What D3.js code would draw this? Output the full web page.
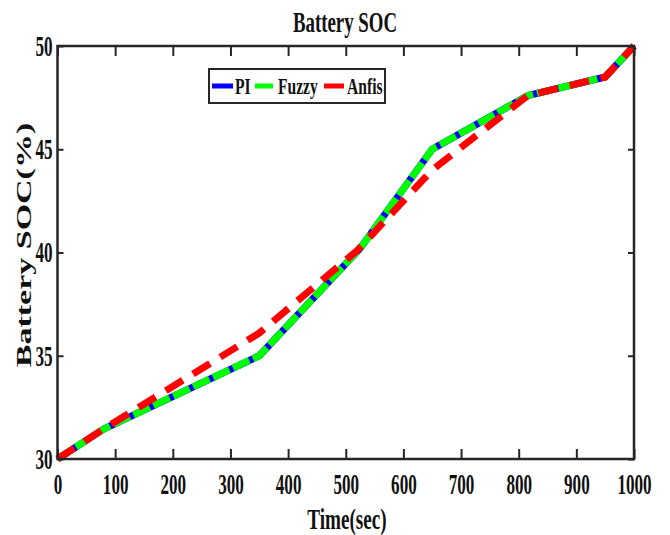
<!DOCTYPE html>
<html>
<head>
<meta charset="utf-8">
<script src="https://cdn.jsdelivr.net/npm/d3@7"></script>
<style>
body { margin: 0; background: #fff; }
text { font-family: "Liberation Serif", "Times New Roman", serif; font-weight: bold; fill: #111; }
</style>
</head>
<body>
<div id="chart"></div>
<script>
// values
var time = [0, 80, 350, 525, 650, 816, 950, 1000];
var socPI = [30, 31.45, 35, 40.2, 45, 47.6, 48.5, 50];
var socFuzzy = [30, 31.45, 35, 40.2, 45, 47.6, 48.5, 50];
var timeAnfis = [0, 80, 350, 520, 650, 816, 950, 1000];
var socAnfis = [30, 31.45, 36.1, 40.1, 44.0, 47.6, 48.5, 50];
var xTicks = [0, 100, 200, 300, 400, 500, 600, 700, 800, 900, 1000];
var yTicks = [30, 35, 40, 45, 50];
var seriesNames = ["PI", "Fuzzy", "Anfis"];

var w = 670, h = 535;
// plot box edges (window.top is read only, so no plain "top")
var plotL = 57.5, plotR = 634, plotT = 46, plotB = 459;

var svg = d3.select("#chart").append("svg")
    .attr("width", w)
    .attr("height", h);

var x = d3.scaleLinear().domain([0, 1000]).range([plotL, plotR]);
var y = d3.scaleLinear().domain([30, 50]).range([plotB, plotT]);

// the picture is squeezed sideways, so text gets scaled on x
var sx = 0.59;

function toPoints(xs, ys) {
    return xs.map(function(d, i) { return [d, ys[i]]; });
}
var line = d3.line().x(function(d) { return x(d[0]); }).y(function(d) { return y(d[1]); });

// PI solid blue underneath, fuzzy green dashed on top so blue shows in the gaps
svg.append("path")
    .attr("d", line(toPoints(time, socPI)))
    .attr("fill", "none").attr("stroke", "#0000ff").attr("stroke-width", 7);
svg.append("path")
    .attr("d", line(toPoints(time, socFuzzy)))
    .attr("fill", "none").attr("stroke", "#00ff00").attr("stroke-width", 7)
    .attr("stroke-dasharray", "18,4");
svg.append("path")
    .attr("d", line(toPoints(timeAnfis, socAnfis)))
    .attr("fill", "none").attr("stroke", "#ff0000").attr("stroke-width", 7)
    .attr("stroke-dasharray", "20,12");

// axes with inward ticks (matlab look)
var xAxis = svg.append("g")
    .attr("transform", "translate(0," + plotB + ")")
    .call(d3.axisBottom(x).tickValues(xTicks).tickFormat(d3.format("d"))
        .tickSizeInner(-10).tickSizeOuter(0).tickPadding(14));
svg.append("g")
    .attr("transform", "translate(0," + plotT + ")")
    .call(d3.axisTop(x).tickValues(xTicks).tickSizeInner(-10).tickSizeOuter(0).tickFormat(""));
var yAxis = svg.append("g")
    .attr("transform", "translate(" + plotL + ",0)")
    .call(d3.axisLeft(y).tickValues(yTicks).tickFormat(d3.format("d"))
        .tickSizeInner(-6).tickSizeOuter(0));
svg.append("g")
    .attr("transform", "translate(" + plotR + ",0)")
    .call(d3.axisRight(y).tickValues(yTicks).tickSizeInner(-6).tickSizeOuter(0).tickFormat(""));

svg.selectAll(".domain").remove();
svg.selectAll(".tick line").attr("stroke", "#262626").attr("stroke-width", 2);

xAxis.selectAll("text")
    .attr("font-size", 29)
    .attr("font-family", "Liberation Serif")
    .attr("fill", "#111")
    .attr("transform", "scale(" + sx + ",1)");
yAxis.selectAll("text")
    .attr("font-size", 29)
    .attr("font-family", "Liberation Serif")
    .attr("fill", "#111")
    .attr("x", -5 / sx)
    .attr("transform", "scale(" + sx + ",1)");

// frame
svg.append("rect")
    .attr("x", plotL).attr("y", plotT)
    .attr("width", plotR - plotL).attr("height", plotB - plotT)
    .attr("fill", "none").attr("stroke", "#262626").attr("stroke-width", 2.5);

// title and axis labels
svg.append("text")
    .attr("transform", "translate(345,32) scale(0.65,1)")
    .attr("text-anchor", "middle").attr("font-size", 29)
    .text("Battery SOC");
svg.append("text")
    .attr("transform", "translate(347,529) scale(0.66,1)")
    .attr("text-anchor", "middle").attr("font-size", 29)
    .text("Time(sec)");
svg.append("text")
    .attr("transform", "translate(31,245) scale(0.6,1) rotate(-90)")
    .attr("text-anchor", "middle").attr("font-size", 34)
    .text("Battery SOC(%)");

// legend
var legend = svg.append("g");
legend.append("rect")
    .attr("x", 209).attr("y", 69).attr("width", 176).attr("height", 34)
    .attr("fill", "#fff").attr("stroke", "#262626").attr("stroke-width", 2);

var legendColors = ["#0000ff", "#00ff00", "#ff0000"];
var legendDash = [null, "18,4", "20,12"];
var legendX = [212, 255, 324];

var items = legend.selectAll(".item")
    .data(seriesNames)
    .enter().append("g")
    .attr("class", "item")
    .attr("transform", function(d, i) { return "translate(" + legendX[i] + ",86)"; });

items.append("line")
    .attr("x1", 0).attr("x2", 21).attr("y1", 0).attr("y2", 0)
    .attr("stroke", function(d, i) { return legendColors[i]; })
    .attr("stroke-width", 5)
    .attr("stroke-dasharray", function(d, i) { return legendDash[i]; });

items.append("text")
    .attr("transform", "translate(23,8) scale(0.65,1)")
    .attr("font-size", 24)
    .text(function(d) { return d; });
</script>
</body>
</html>
